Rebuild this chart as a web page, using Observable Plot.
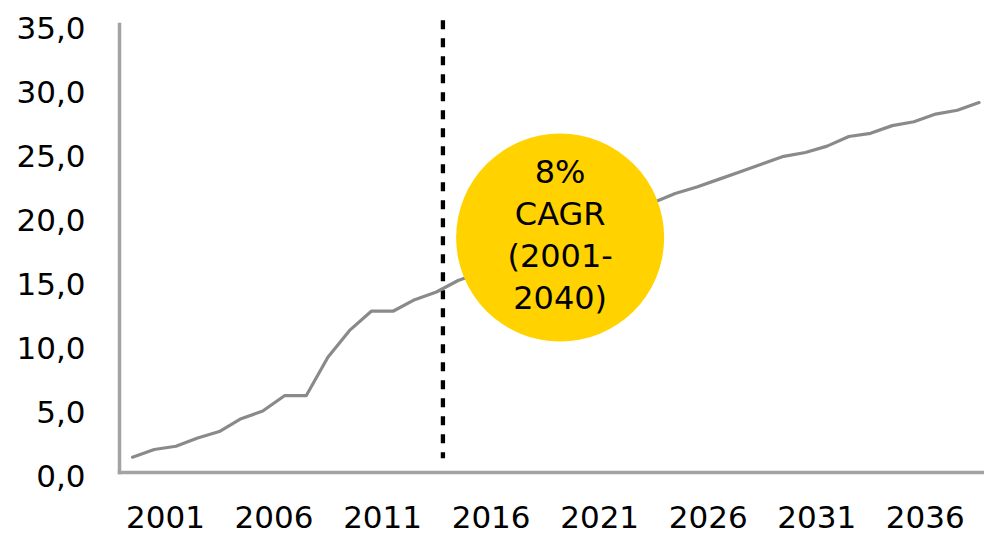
<!DOCTYPE html>
<html>
<head>
<meta charset="utf-8">
<script src="https://cdn.jsdelivr.net/npm/d3@7"></script>
<script src="https://cdn.jsdelivr.net/npm/@observablehq/plot@0.6"></script>
<style>
  html, body { margin: 0; padding: 0; background: #ffffff; }
  #chart svg { display: block; }
</style>
</head>
<body>
<div id="chart"></div>
<script>
// ---- data ----
const years = [2001,2002,2003,2004,2005,2006,2007,2008,2009,2010,
               2011,2012,2013,2014,2015,2016,2017,2018,2019,2020,
               2021,2022,2023,2024,2025,2026,2027,2028,2029,2030,
               2031,2032,2033,2034,2035,2036,2037,2038,2039,2040];
const values = [1.2,1.8,2.05,2.7,3.2,4.2,4.8,6.0,6.0,9.0,
                11.1,12.6,12.6,13.5,14.1,15.0,15.6,16.3,16.9,17.5,
                18.2,18.9,19.6,20.3,21.1,21.8,22.3,22.9,23.5,24.1,
                24.7,25.0,25.5,26.25,26.5,27.1,27.4,28.0,28.3,28.9];
const xTickLabels = [2001, 2006, 2011, 2016, 2021, 2026, 2031, 2036];
const yTickLabels = [0, 5, 10, 15, 20, 25, 30, 35];
const forecastStart = [2015.3];
const bubbleText = "8%\nCAGR\n(2001-\n2040)";
const bubble = [{year: 2020.7, value: 18.35, label: bubbleText}];

const data = years.map((y, i) => ({year: y, value: values[i]}));

const chart = Plot.plot({
  width: 984,
  height: 536,
  marginLeft: 119,
  marginRight: 0,
  marginTop: 24,
  marginBottom: 64,
  style: {fontFamily: "DejaVu Sans, Verdana, sans-serif", fontSize: "31px", color: "#000", background: "#fff"},
  x: {domain: [2000.4, 2040.25]},
  y: {domain: [0, 35]},
  marks: [
    Plot.axisY(yTickLabels, {
      tickSize: 0, tickPadding: 34, dy: 5, fontSize: 31, fill: "#000",
      tickFormat: d => d.toFixed(1).replace(".", ","), label: null
    }),
    Plot.axisX(xTickLabels, {
      tickSize: 0, tickPadding: 33, dx: 33, fontSize: 31, fill: "#000",
      tickFormat: d => String(d), label: null
    }),
    Plot.frame({anchor: "left", stroke: "#a3a3a3", strokeWidth: 3.5}),
    Plot.frame({anchor: "bottom", stroke: "#a3a3a3", strokeWidth: 3.5}),
    Plot.ruleX(forecastStart, {y1: 35.3, y2: 1.07, stroke: "#000", strokeWidth: 4.3, strokeDasharray: "9,9"}),
    Plot.line(data, {x: "year", y: "value", stroke: "#8a8a8a", strokeWidth: 3.2}),
    Plot.dot(bubble, {x: "year", y: "value", r: 104, fill: "#FFD200", stroke: "none"}),
    Plot.text(bubble, {x: "year", y: "value", text: "label", dy: -5, fontSize: 32, lineHeight: 1.32, fill: "#000"})
  ]
});
document.getElementById("chart").appendChild(chart);
</script>
</body>
</html>
